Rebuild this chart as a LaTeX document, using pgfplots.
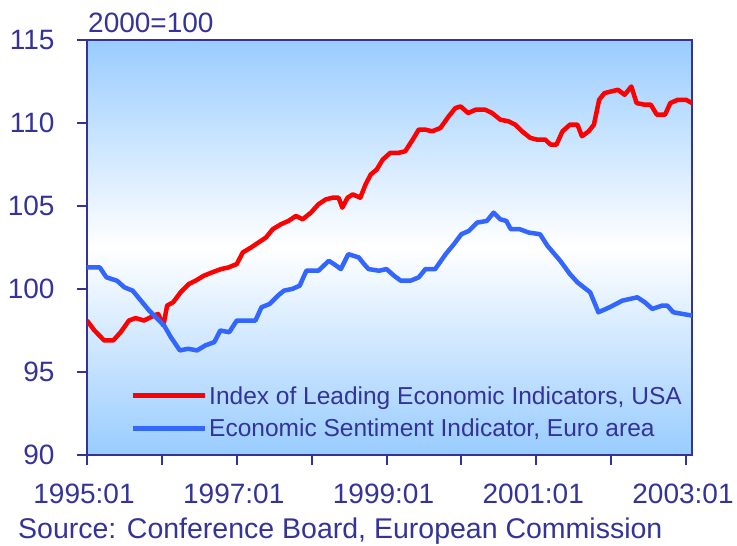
\documentclass[border=0pt]{standalone}
\usepackage{fontspec}
\setmainfont{Liberation Sans}
\usepackage{pgfplots}
\pgfplotsset{compat=1.18}
\usetikzlibrary{calc}
\definecolor{navy}{HTML}{333399}
\definecolor{bgblue}{HTML}{99CCFF}
\definecolor{lred}{HTML}{FF0000}
\definecolor{lblue}{HTML}{3366FF}
\begin{document}
\begin{tikzpicture}
\begin{axis}[
  scale only axis, width=605pt, height=415pt,
  xmin=1995, xmax=2003.08, ymin=90, ymax=115,
  xtick={1995,1996,...,2003},
  xticklabels={1995:01,,1997:01,,1999:01,,2001:01,,2003:01},
  ytick={90,95,...,115},
  xtick pos=left, ytick pos=left,
  tick align=outside, major tick length=10pt,
  axis line style={navy, line width=2pt},
  tick style={navy, line width=2pt},
  /pgf/number format/assume math mode=true,
  tick label style={font=\fontsize{28}{30}\selectfont, text=navy},
  xticklabel style={yshift=-15pt, xshift=-3pt},
  yticklabel style={xshift=-19pt},
  axis background/.style={top color=bgblue, bottom color=bgblue, middle color=white},
  legend style={at={(1,0)}, anchor=south east, xshift=-8pt, yshift=15pt,
    draw=none, fill=none, font=\fontsize{24.5}{26}\selectfont, text=navy,
    row sep=9pt, inner sep=0pt},
  legend cell align=left,
  legend image code/.code={\draw[#1, line width=5pt] (0pt,0pt) -- (72pt,0pt);},
]
\coordinate (sw) at (rel axis cs:0,0);
\coordinate (ne) at (rel axis cs:1,1);
\addplot[lred, line width=4.5pt, line join=round] coordinates {
(1995.00,98.1) (1995.10,97.5) (1995.23,96.9) (1995.35,96.9) (1995.45,97.4)
(1995.56,98.1) (1995.65,98.25) (1995.76,98.1) (1995.85,98.3) (1995.95,98.5)
(1996.02,97.8) (1996.07,99.0) (1996.15,99.2) (1996.25,99.8) (1996.36,100.3)
(1996.45,100.5) (1996.56,100.8) (1996.67,101.0) (1996.79,101.2) (1996.89,101.3)
(1997.00,101.5) (1997.08,102.2) (1997.19,102.5) (1997.29,102.8) (1997.39,103.1)
(1997.48,103.6) (1997.59,103.9) (1997.69,104.1) (1997.79,104.4) (1997.88,104.2)
(1997.99,104.6) (1998.09,105.1) (1998.19,105.4) (1998.28,105.5) (1998.36,105.5)
(1998.41,104.9) (1998.48,105.5) (1998.55,105.7) (1998.65,105.5) (1998.72,106.3)
(1998.79,106.9) (1998.87,107.2) (1998.95,107.8) (1999.05,108.2) (1999.16,108.2)
(1999.25,108.3) (1999.35,109.0) (1999.43,109.6) (1999.52,109.6) (1999.61,109.5)
(1999.72,109.7) (1999.83,110.4) (1999.92,110.9) (1999.99,111.0) (2000.09,110.6)
(2000.19,110.8) (2000.32,110.8) (2000.41,110.6) (2000.52,110.2) (2000.63,110.1)
(2000.72,109.9) (2000.81,109.5) (2000.92,109.1) (2001.01,109.0) (2001.12,109.0)
(2001.19,108.7) (2001.27,108.7) (2001.35,109.5) (2001.45,109.9) (2001.55,109.9)
(2001.61,109.2) (2001.70,109.5) (2001.77,109.9) (2001.84,111.4) (2001.91,111.8)
(2002.00,111.9) (2002.09,112.0) (2002.18,111.7) (2002.27,112.2) (2002.34,111.2)
(2002.45,111.1) (2002.53,111.1) (2002.61,110.5) (2002.72,110.5) (2002.79,111.2)
(2002.89,111.4) (2003.00,111.4) (2003.08,111.2)
};
\addlegendentry{Index of Leading Economic Indicators, USA}
\addplot[lblue, line width=4.5pt, line join=round] coordinates {
(1995.00,101.3) (1995.17,101.3) (1995.26,100.7) (1995.40,100.5) (1995.50,100.1)
(1995.61,99.9) (1995.72,99.3) (1995.83,98.7) (1995.92,98.3) (1996.03,97.8)
(1996.12,97.1) (1996.24,96.3) (1996.35,96.4) (1996.47,96.3) (1996.58,96.6)
(1996.70,96.8) (1996.78,97.5) (1996.90,97.4) (1997.00,98.1) (1997.12,98.1)
(1997.25,98.1) (1997.33,98.9) (1997.44,99.1) (1997.55,99.6) (1997.63,99.9)
(1997.74,100.0) (1997.84,100.2) (1997.93,101.1) (1998.09,101.1) (1998.23,101.7)
(1998.33,101.4) (1998.39,101.2) (1998.49,102.1) (1998.63,101.9) (1998.70,101.5)
(1998.76,101.2) (1998.90,101.1) (1999.00,101.2) (1999.10,100.8) (1999.19,100.5)
(1999.32,100.5) (1999.43,100.7) (1999.52,101.2) (1999.65,101.2) (1999.79,102.1)
(1999.90,102.7) (2000.00,103.3) (2000.10,103.5) (2000.21,104.0) (2000.34,104.1)
(2000.43,104.6) (2000.52,104.2) (2000.60,104.1) (2000.66,103.6) (2000.78,103.6)
(2000.90,103.4) (2001.05,103.3) (2001.15,102.6) (2001.32,101.7) (2001.45,100.9)
(2001.55,100.4) (2001.72,99.8) (2001.83,98.6) (2001.98,98.9) (2002.15,99.3)
(2002.35,99.5) (2002.45,99.2) (2002.55,98.8) (2002.68,99.0) (2002.75,99.0)
(2002.83,98.6) (2002.95,98.5) (2003.08,98.4)
};
\addlegendentry{Economic Sentiment Indicator, Euro area}
\end{axis}
\node[anchor=base west, inner sep=0pt, text=navy, font=\fontsize{28}{30}\selectfont]
  at ($(sw|-ne)+(1pt,7pt)$) {2000=100};
\node[anchor=base west, inner sep=0pt, text=navy, font=\fontsize{28.5}{30}\selectfont]
  at ($(sw)+(-69pt,-83pt)$) {Source: Conference Board, European Commission};
\pgfresetboundingbox
\path ($(sw)+(-87pt,-90pt)$) rectangle ($(ne)+(45pt,40pt)$);
\end{tikzpicture}
\end{document}
